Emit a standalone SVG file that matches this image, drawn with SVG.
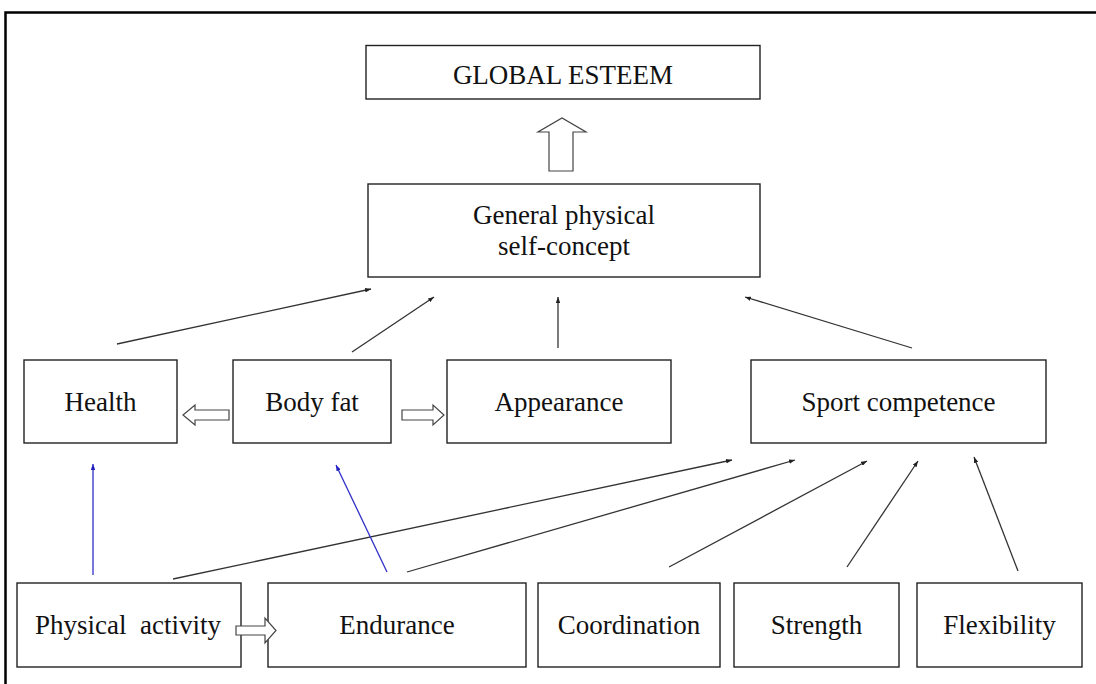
<svg xmlns="http://www.w3.org/2000/svg" width="1096" height="684" viewBox="0 0 1096 684">
<defs>
<style>
.box{fill:#fff;stroke:#222;stroke-width:1.4}
.t{font-family:"Liberation Serif","Times New Roman",serif;font-size:27px;fill:#111;text-anchor:middle}
.ln{stroke:#333;stroke-width:1.3;fill:none;marker-end:url(#ah)}
.bl{stroke:#3030c8;stroke-width:1.3;fill:none;marker-end:url(#ahb)}
.open{fill:#fff;stroke:#444;stroke-width:1.2}
</style>
<marker id="ah" viewBox="0 0 8 6" refX="8" refY="3" markerWidth="6" markerHeight="4.5" markerUnits="userSpaceOnUse" orient="auto"><path d="M0,0 L8,3 L0,6 z" fill="#222"/></marker>
<marker id="ahb" viewBox="0 0 8 6" refX="8" refY="3" markerWidth="6" markerHeight="4.5" markerUnits="userSpaceOnUse" orient="auto"><path d="M0,0 L8,3 L0,6 z" fill="#2020c0"/></marker>
</defs>
<rect width="1096" height="684" fill="#fff"/>
<g id="frame">
<path d="M5.5,684 L5.5,12.5 L1096,12.5" fill="none" stroke="#000" stroke-width="2.5"/>
</g>
<g id="global-esteem"><rect class="box" x="366" y="45.5" width="394" height="53.5"/><text class="t" x="563" y="84">GLOBAL ESTEEM</text></g>
<g id="general"><rect class="box" x="368" y="184" width="392" height="93"/><text class="t" x="564" y="224">General physical</text><text class="t" x="564" y="255">self-concept</text></g>
<g id="health"><rect class="box" x="24" y="360" width="153" height="83"/><text class="t" x="100.5" y="411">Health</text></g>
<g id="bodyfat"><rect class="box" x="233" y="360" width="158" height="83"/><text class="t" x="312" y="411">Body fat</text></g>
<g id="appearance"><rect class="box" x="447" y="360" width="224" height="83"/><text class="t" x="559" y="411">Appearance</text></g>
<g id="sport"><rect class="box" x="751" y="360" width="295" height="83"/><text class="t" x="898.5" y="411">Sport competence</text></g>
<g id="physact"><rect class="box" x="17" y="583" width="224" height="84"/><text class="t" x="128" y="634" style="white-space:pre">Physical  activity</text></g>
<g id="endurance"><rect class="box" x="268" y="583" width="258" height="84"/><text class="t" x="397" y="634">Endurance</text></g>
<g id="coordination"><rect class="box" x="538" y="583" width="182" height="84"/><text class="t" x="629" y="634">Coordination</text></g>
<g id="strength"><rect class="box" x="734" y="583" width="165" height="84"/><text class="t" x="816.5" y="634">Strength</text></g>
<g id="flexibility"><rect class="box" x="917" y="583" width="165" height="84"/><text class="t" x="999.5" y="634">Flexibility</text></g>
<g id="connectors">
<path class="open" d="M549,171 L549,132 L538,132 L562,118 L586,132 L573,132 L573,171 Z"/>
<path class="open" d="M229,410 L195,410 L195,405 L183,415 L195,425 L195,420 L229,420 Z"/>
<path class="open" d="M402,410 L433,410 L433,405 L444,415 L433,425 L433,420 L402,420 Z"/>
<path class="open" d="M236,626 L265,626 L265,618 L276,630.5 L265,643 L265,635 L236,635 Z"/>
<line class="ln" x1="117" y1="344" x2="371" y2="289"/>
<line class="ln" x1="352" y1="352" x2="434" y2="297"/>
<line class="ln" x1="558" y1="348" x2="558" y2="297"/>
<line class="ln" x1="912" y1="348" x2="745" y2="297"/>
<line class="ln" x1="173" y1="579" x2="732" y2="460"/>
<line class="ln" x1="407" y1="572" x2="795" y2="460"/>
<line class="ln" x1="669" y1="567" x2="867" y2="461"/>
<line class="ln" x1="847" y1="567" x2="918" y2="461"/>
<line class="ln" x1="1018" y1="571" x2="974" y2="457"/>
<line class="bl" x1="93" y1="575" x2="93" y2="464"/>
<line class="bl" x1="387" y1="572" x2="336" y2="465"/>
</g>
</svg>
